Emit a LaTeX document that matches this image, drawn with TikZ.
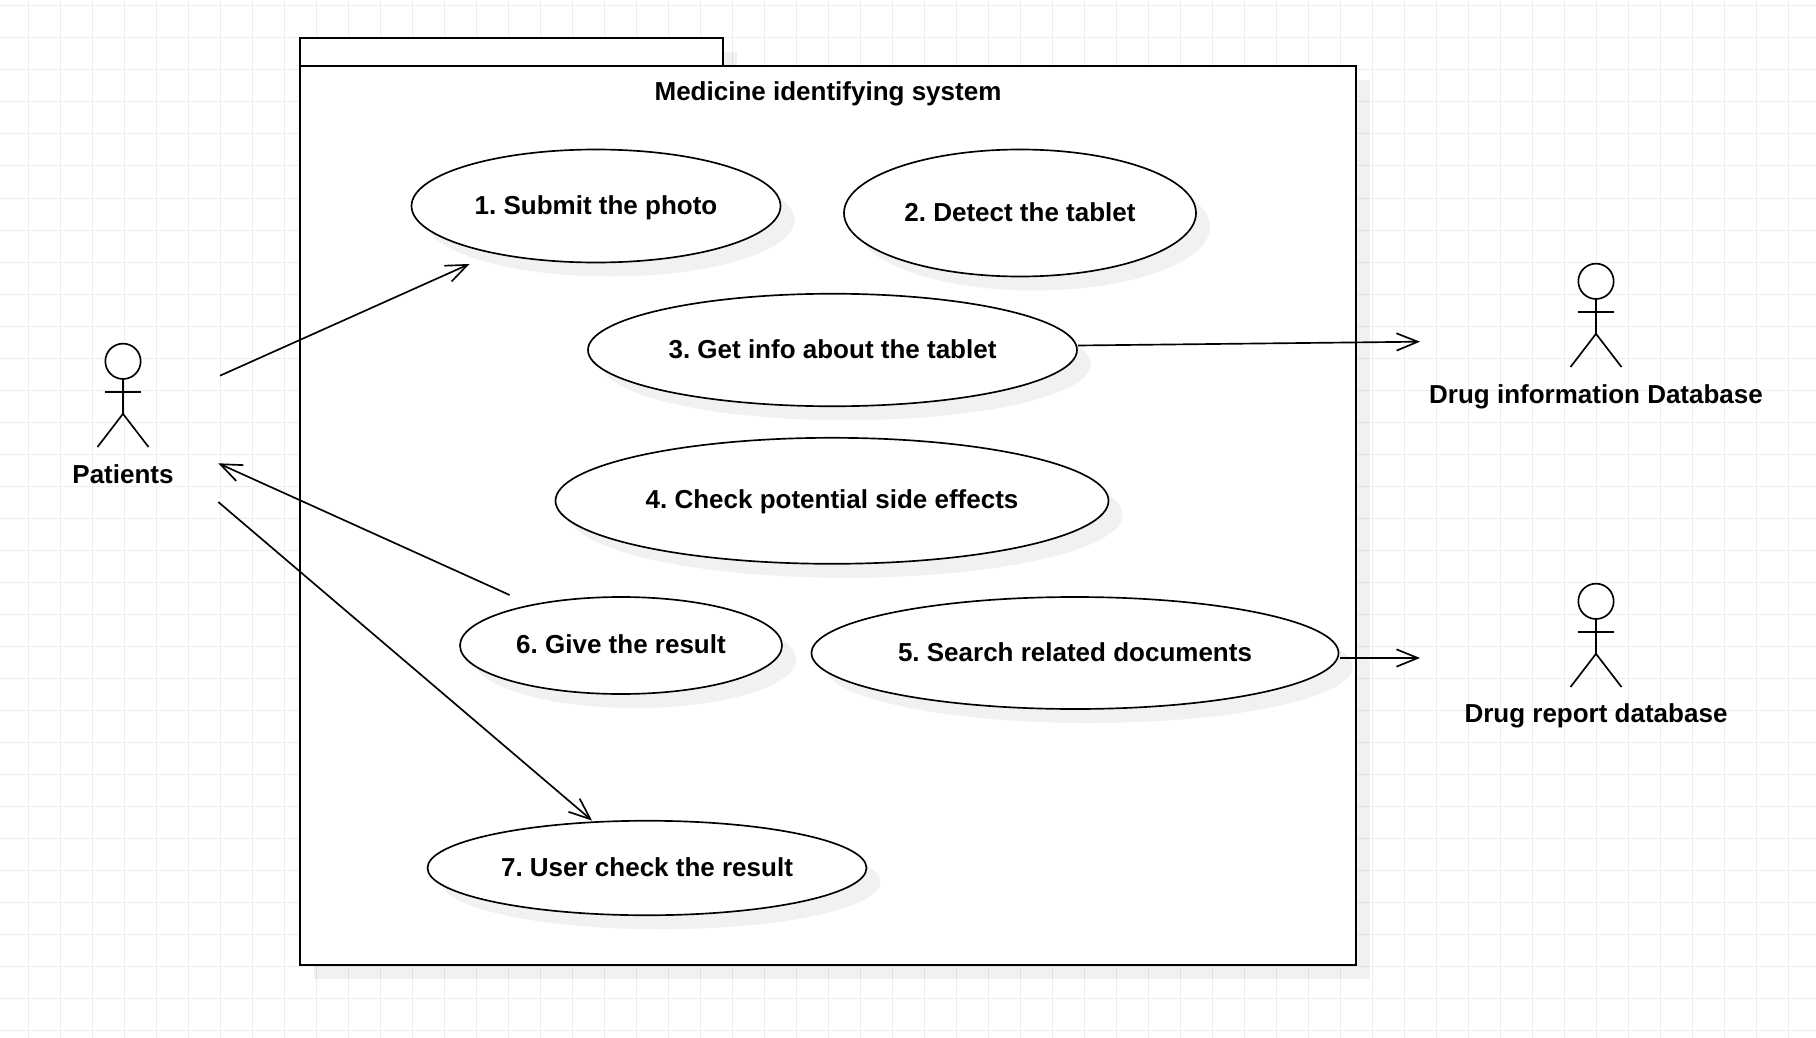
\documentclass[tikz,border=0pt]{standalone}
\usepackage{fontspec}
\setmainfont{Liberation Sans}
\frenchspacing
\usetikzlibrary{shapes.geometric,arrows.meta,shadows}
\definecolor{gridline}{HTML}{EEEEEE}
\tikzset{
  px/.style={x=0.75pt,y=-0.75pt},
  softshadow/.style={general shadow={shadow xshift=10.5pt,shadow yshift=-10.5pt,fill=black,opacity=0.055}},
  gridrule/.style={draw=gridline,line width=0.75pt},
  pkgbox/.style={draw=black,fill=white,line width=1.5pt,softshadow},
  boldtext/.style={font=\fontsize{19.5pt}{23pt}\selectfont\bfseries,text height=15.6pt,text depth=3.4pt},
  usecase/.style={shape=ellipse,draw=black,fill=white,line width=1.25pt,inner sep=0pt,outer sep=0pt,softshadow,boldtext,align=center},
  actorhead/.style={shape=circle,draw=black,fill=white,line width=1.25pt,inner sep=0pt,outer sep=0pt,minimum size=26.5pt},
  actorline/.style={draw=black,line width=1.25pt},
  actorlabel/.style={boldtext,inner sep=0pt},
  titletext/.style={boldtext,inner sep=0pt},
  flow/.style={draw=black,line width=1.25pt,-{Straight Barb[length=16pt,width=13pt,line width=1.25pt]}},
}
\newcommand{\stick}[5]{%
  \node[actorhead] (#1) at (#2,#3) {};
  \coordinate (#1hip) at (#2,#3+52.5);
  \draw[actorline] (#1.south) -- (#1hip);
  \draw[actorline] (#2-18.3,#3+30.5) -- (#2+18.3,#3+30.5);
  \draw[actorline] (#2-25.5,#3+85.7) -- (#1hip) -- (#2+25.5,#3+85.7);
  \node[actorlabel] (#1label) at (#2,#3+#4) {#5};
}
\begin{document}
\begin{tikzpicture}[px]
\useasboundingbox (0,0) rectangle (1816,1038);
\fill[white] (0,0) rectangle (1816,1038);
\foreach \i in {0,...,56} \draw[gridrule] ({28.5+32*\i},0) -- ({28.5+32*\i},1038);
\foreach \j in {0,...,32} \draw[gridrule] (0,{6+32*\j}) -- (1816,{6+32*\j});
% package
\path[pkgbox] (300,38.5) rectangle (722.5,66);
\path[pkgbox] (300,66) rectangle (1356,965);
\node[titletext] (systitle) at (828,92.5) {Medicine identifying system};
% use cases
\node[usecase,minimum width=369*0.75pt,minimum height=113*0.75pt] (uc1) at (596,206) {1. Submit the photo};
\node[usecase,minimum width=352*0.75pt,minimum height=127*0.75pt] (uc2) at (1020,213) {2. Detect the tablet};
\node[usecase,minimum width=489*0.75pt,minimum height=112.5*0.75pt] (uc3) at (832.5,350) {3. Get info about the tablet};
\node[usecase,minimum width=553*0.75pt,minimum height=126*0.75pt] (uc4) at (832,500.8) {4. Check potential side effects};
\node[usecase,minimum width=527*0.75pt,minimum height=112*0.75pt] (uc5) at (1075,653) {5. Search related documents};
\node[usecase,minimum width=322*0.75pt,minimum height=97*0.75pt] (uc6) at (621,645.5) {6. Give the result};
\node[usecase,minimum width=439*0.75pt,minimum height=94.5*0.75pt] (uc7) at (647,868) {7. User check the result};
% actors
\stick{patients}{123}{361.3}{113.7}{Patients}
\stick{druginfo}{1596}{281.3}{113.7}{Drug information Database}
\stick{drugreport}{1596}{601.3}{113.5}{Drug report database}
% free connector ends
\coordinate (patientsA) at (220,375.7);
\coordinate (patientsB) at (218.3,463.3);
\coordinate (patientsC) at (218.3,502);
\coordinate (uc1in) at (469.5,264);
\coordinate (uc6out) at (509.6,595);
\coordinate (uc7in) at (592,820.5);
\coordinate (uc3out) at (1078,345.5);
\coordinate (uc5out) at (1340,658);
\coordinate (druginfoin) at (1420,341.7);
\coordinate (drugreportin) at (1420,658);
% connectors
\draw[flow] (patientsA) -- (uc1in);
\draw[flow] (uc6out) -- (patientsB);
\draw[flow] (patientsC) -- (uc7in);
\draw[flow] (uc3out) -- (druginfoin);
\draw[flow] (uc5out) -- (drugreportin);
\end{tikzpicture}
\end{document}
